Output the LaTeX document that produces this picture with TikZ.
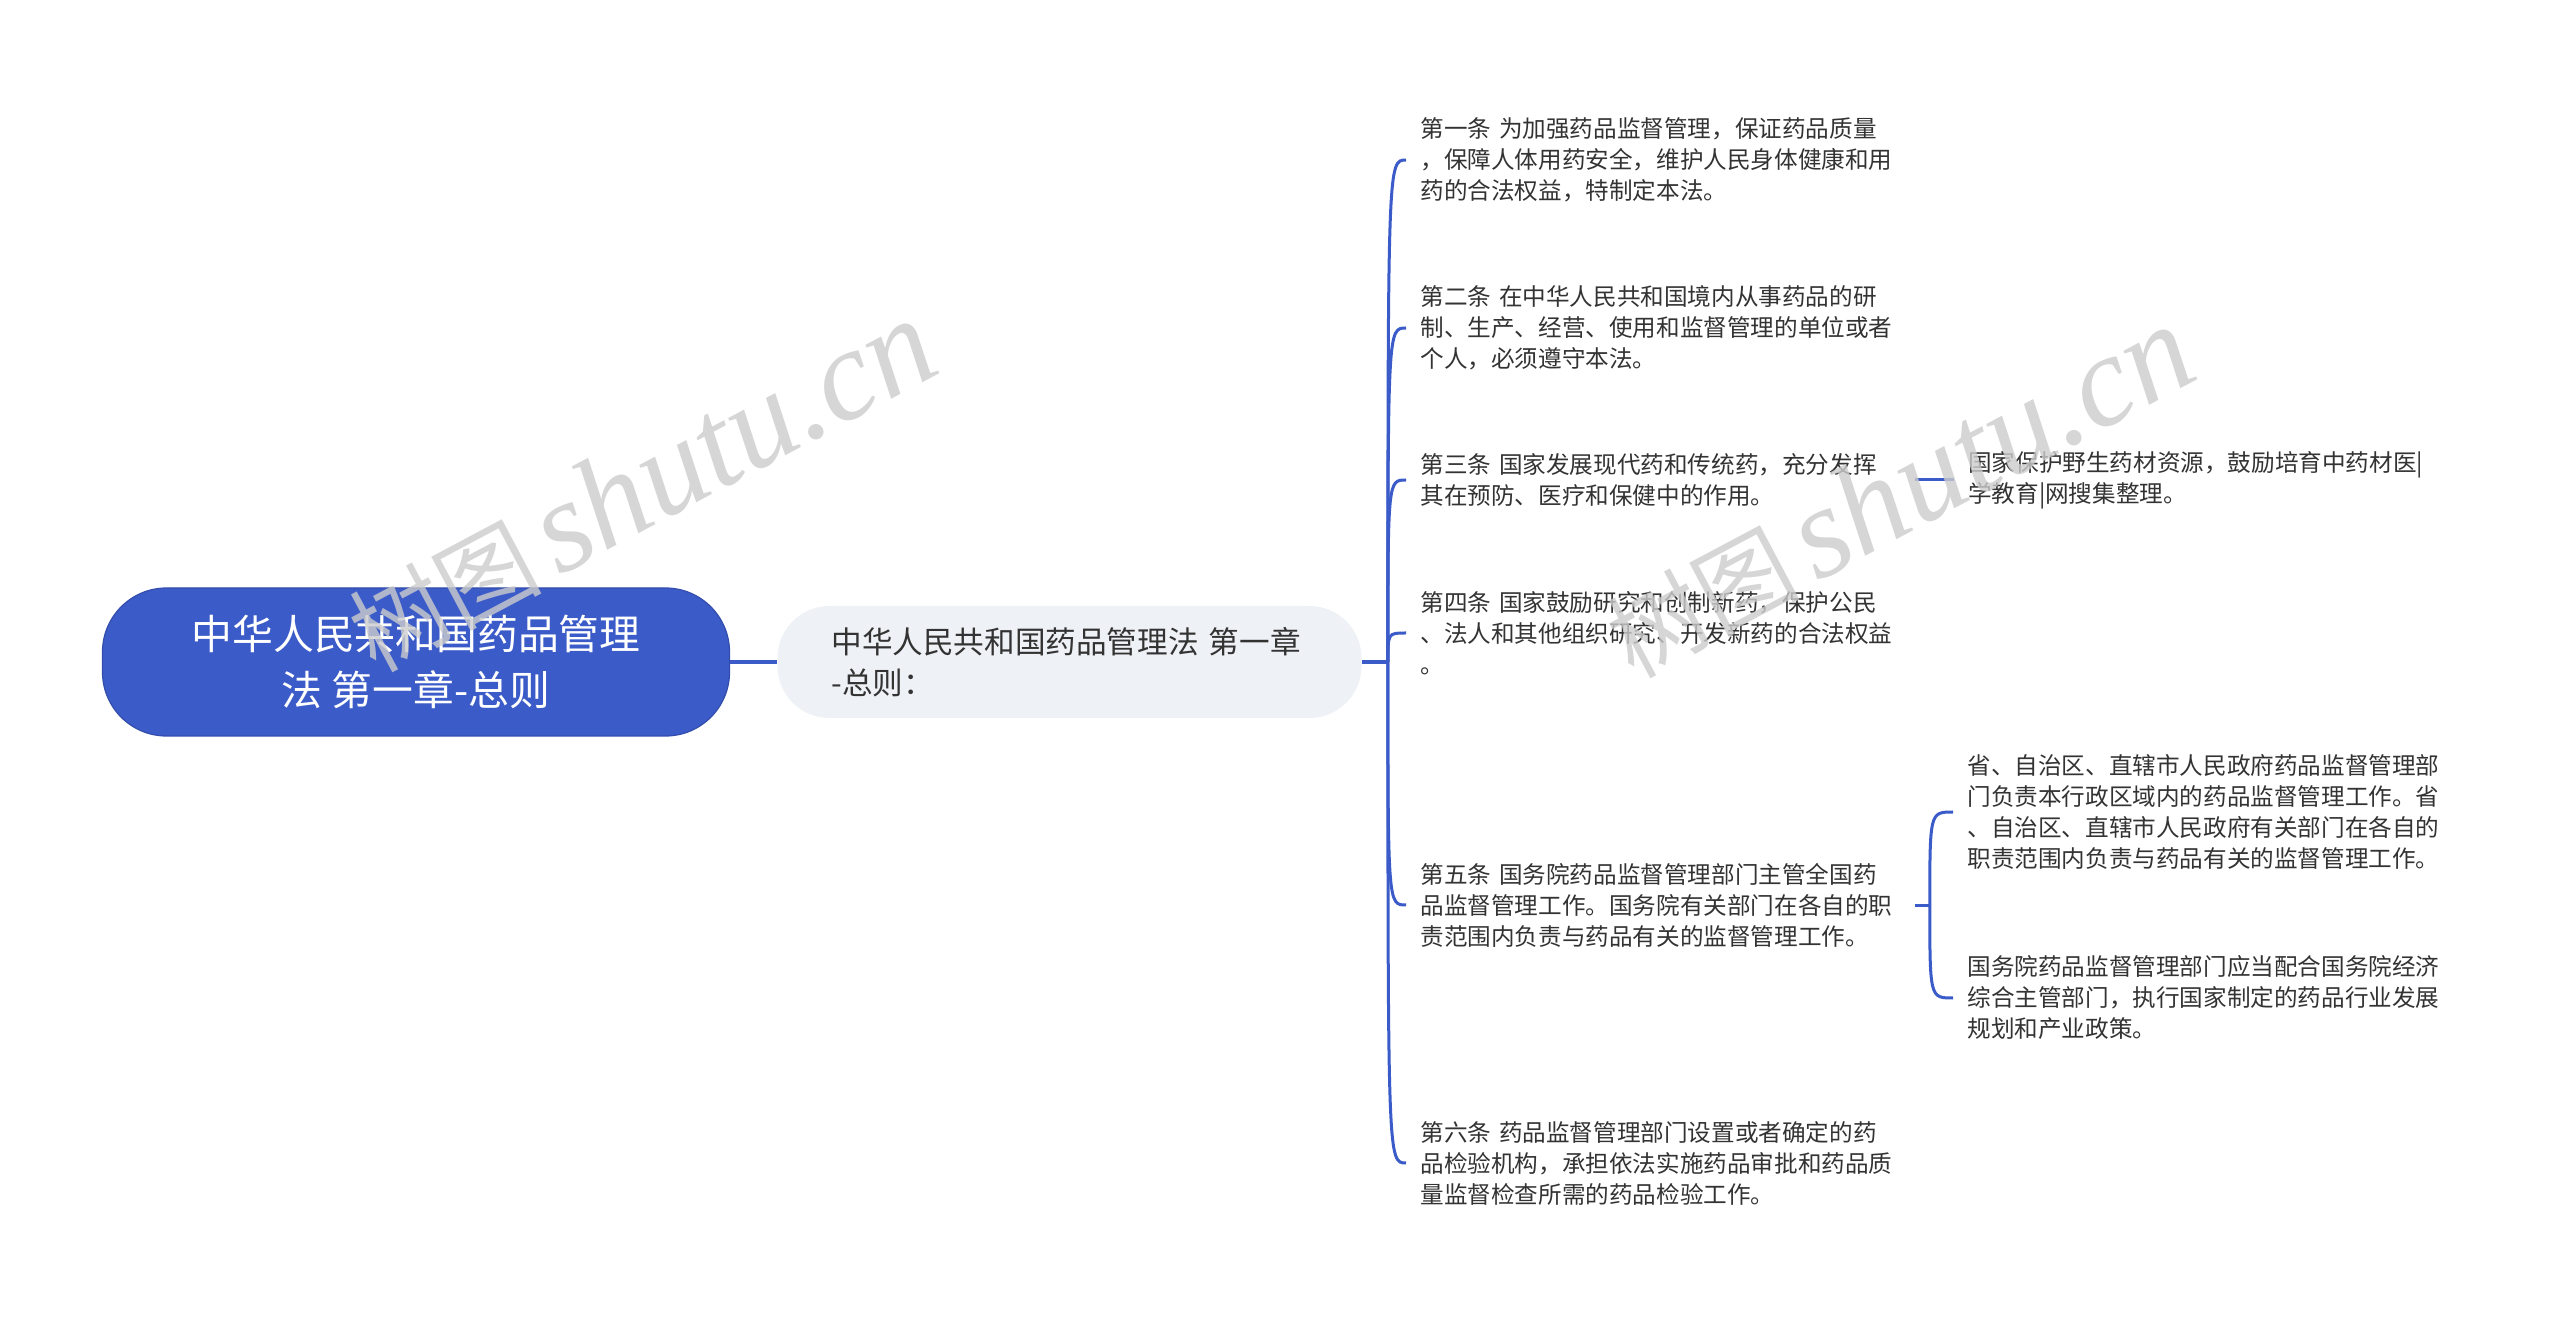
\documentclass[tikz,border=0pt]{standalone}
\usepackage{fontspec}
\setmainfont{Noto Sans CJK SC}
\newfontfamily\wmfont{Liberation Serif Italic}
\usepackage{tikz}

\definecolor{rootblue}{RGB}{59,91,201}
\definecolor{subgray}{RGB}{238,241,245}
\definecolor{textgray}{RGB}{51,51,51}

\tikzset{
  rootbox/.style={rectangle, rounded corners=32pt, fill=rootblue, draw=rootblue!85!black, line width=0.6pt, text=white, align=center, minimum width=313.5pt, minimum height=74pt, font=\fontsize{20.4pt}{27.8pt}\selectfont},
  subbox/.style={rectangle, rounded corners=26pt, fill=subgray, text=textgray, align=left, text width=238pt, inner xsep=27pt, minimum height=56pt, font=\fontsize{15.3pt}{20.5pt}\selectfont},
  leaf/.style={anchor=west, align=left, text width=240pt, inner xsep=7pt, inner ysep=0pt, text=textgray, font=\fontsize{11.8pt}{15.5pt}\selectfont},
  branch/.style={draw=rootblue, line width=1.5pt},
  trunkline/.style={draw=rootblue, line width=2pt},
  watermark/.style={anchor=base west, rotate=28, text=black!20, opacity=0.8, inner sep=0pt}
}

\begin{document}
\begin{tikzpicture}[x=0.5pt, y=-0.5pt]

% Page
\fill[white] (0,0) rectangle (2560,1325);
\useasboundingbox (0,0) rectangle (2560,1325);

% Root and chapter nodes
\node[rootbox] (root) at (416,662) {中华人民共和国药品管理\\法 第一章-总则};
\node[subbox] (chap) at (1069.5,662) {中华人民共和国药品管理法 第一章\\-总则：};
\draw[trunkline] (root.east) -- (chap.west);

% Articles
\node[leaf] (a1) at (1406,160) {第一条 为加强药品监督管理，保证药品质量\\，保障人体用药安全，维护人民身体健康和用\\药的合法权益，特制定本法。};
\node[leaf] (a2) at (1406,328) {第二条 在中华人民共和国境内从事药品的研\\制、生产、经营、使用和监督管理的单位或者\\个人，必须遵守本法。};
\node[leaf] (a3) at (1406,480) {第三条 国家发展现代药和传统药，充分发挥\\其在预防、医疗和保健中的作用。};
\node[leaf] (a4) at (1406,633) {第四条 国家鼓励研究和创制新药，保护公民\\、法人和其他组织研究、开发新药的合法权益\\。};
\node[leaf] (a5) at (1406,905) {第五条 国务院药品监督管理部门主管全国药\\品监督管理工作。国务院有关部门在各自的职\\责范围内负责与药品有关的监督管理工作。};
\node[leaf] (a6) at (1406,1163) {第六条 药品监督管理部门设置或者确定的药\\品检验机构，承担依法实施药品审批和药品质\\量监督检查所需的药品检验工作。};

% Branches from the chapter node
\coordinate (trunk) at ([xshift=13pt]chap.east);
\draw[trunkline] (chap.east) -- (trunk);
\foreach \n in {a1,a2,a3,a4,a5,a6}
  \draw[branch] (trunk) .. controls (trunk |- \n.west) .. (\n.west);

% Sub-points
\node[leaf] (a3x) at ([xshift=19.5pt]a3.east) {国家保护野生药材资源，鼓励培育中药材医|\\学教育|网搜集整理。};
\draw[branch] (a3.east) -- (a3x.west);

\node[leaf] (a5x) at (1953,812) {省、自治区、直辖市人民政府药品监督管理部\\门负责本行政区域内的药品监督管理工作。省\\、自治区、直辖市人民政府有关部门在各自的\\职责范围内负责与药品有关的监督管理工作。};
\node[leaf] (a5y) at (1953,998) {国务院药品监督管理部门应当配合国务院经济\\综合主管部门，执行国家制定的药品行业发展\\规划和产业政策。};
\coordinate (split) at ([xshift=7.5pt]a5.east);
\draw[branch] (a5.east) -- (split);
\draw[branch] (split) .. controls (split |- a5x.west) .. (a5x.west);
\draw[branch] (split) .. controls (split |- a5y.west) .. (a5y.west);

% Watermarks
\node[watermark] (wm1) at (375,674) {{\fontsize{48pt}{48pt}\selectfont 树图}\hspace{8pt}{\fontsize{65pt}{65pt}\wmfont shutu.cn}};
\node[watermark] (wm2) at (1633,680) {{\fontsize{48pt}{48pt}\selectfont 树图}\hspace{8pt}{\fontsize{65pt}{65pt}\wmfont shutu.cn}};

\end{tikzpicture}
\end{document}
